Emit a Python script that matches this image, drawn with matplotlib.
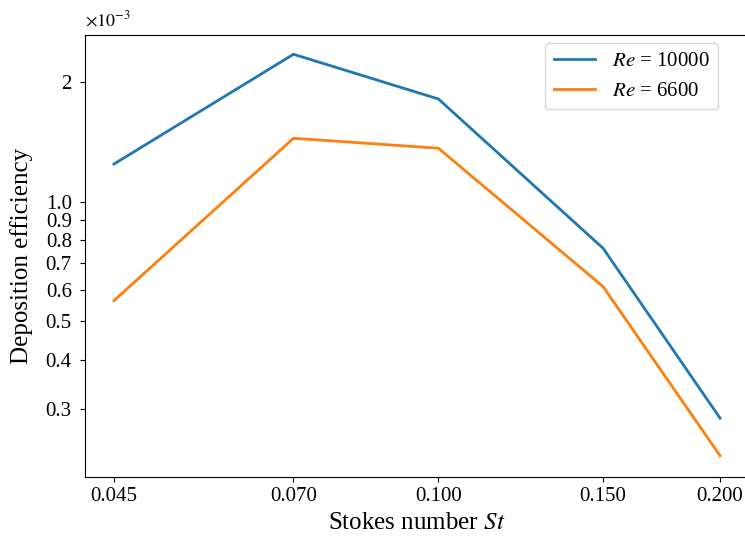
import numpy as np
import matplotlib
matplotlib.use('Agg')
import matplotlib.pyplot as plt
from matplotlib.ticker import NullLocator, FixedLocator, FixedFormatter

plt.rcParams['font.family'] = ['Liberation Serif', 'DejaVu Serif']
plt.rcParams['mathtext.fontset'] = 'stix'
plt.rcParams['font.size'] = 15

# Stokes numbers and deposition efficiency (x 1e-3)
St = [0.045, 0.070, 0.100, 0.150, 0.200]
eff_re10000 = [1.243, 2.348, 1.812, 0.7625, 0.285]
eff_re6600 = [0.563, 1.443, 1.362, 0.6105, 0.2292]
st_labels = ['0.045', '0.070', '0.100', '0.150', '0.200']
y_ticks = [0.3, 0.4, 0.5, 0.6, 0.7, 0.8, 0.9, 1.0, 2.0]
y_labels = ['0.3', '0.4', '0.5', '0.6', '0.7', '0.8', '0.9', '1.0', '2']

fig = plt.figure(figsize=(7.45, 5.42), dpi=100)
ax = fig.add_axes([85/745, 1-477.3/542, (749-85)/745, (477.3-34.7)/542])

ax.plot(St, eff_re10000, color='tab:blue', lw=2, label=r'$Re$ = 10000')
ax.plot(St, eff_re6600, color='tab:orange', lw=2, label=r'$Re$ = 6600')

ax.set_xscale('log')
ax.set_yscale('log')
ax.set_xlim(0.0419, 0.2148)
ax.set_ylim(0.2022, 2.63)

ax.xaxis.set_major_locator(FixedLocator(St))
ax.xaxis.set_major_formatter(FixedFormatter(st_labels))
ax.xaxis.set_minor_locator(NullLocator())
ax.yaxis.set_major_locator(FixedLocator(y_ticks))
ax.yaxis.set_major_formatter(FixedFormatter(y_labels))
ax.yaxis.set_minor_locator(NullLocator())
ax.tick_params(axis='y', pad=6)

ax.set_xlabel(r'Stokes number $St$', fontsize=18)
ax.set_ylabel('Deposition efficiency', fontsize=18, labelpad=9)
ax.text(0.0, 1.01, r'$\times10^{-3}$', transform=ax.transAxes, ha='left', va='bottom', fontsize=13)

ax.legend(loc='upper right', bbox_to_anchor=(718/745, 1-43/542), bbox_transform=fig.transFigure,
          borderaxespad=0, fontsize=15)

fig.savefig('out.png', dpi=100)
